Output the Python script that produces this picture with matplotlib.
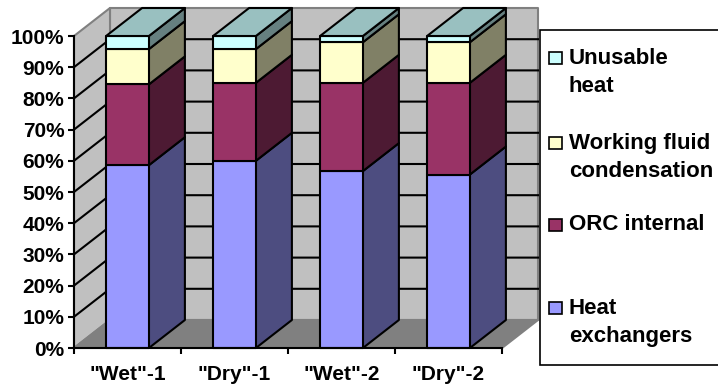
#!/usr/bin/env python3

import matplotlib
matplotlib.use("Agg")
import matplotlib.pyplot as plt
from matplotlib.patches import Polygon, Rectangle

plt.rcParams["font.family"] = ["Liberation Sans", "DejaVu Sans"]
plt.rcParams["font.weight"] = "bold"

CATEGORIES = ['"Wet"-1', '"Dry"-1', '"Wet"-2', '"Dry"-2']
HEAT_EXCHANGERS = [58.6, 60.0, 56.7, 55.6]
ORC_INTERNAL = [25.9, 25.0, 28.3, 29.4]
CONDENSATION = [11.3, 10.8, 13.0, 13.0]
UNUSABLE = [4.2, 4.2, 2.0, 2.0]
YTICKS = [0, 10, 20, 30, 40, 50, 60, 70, 80, 90, 100]

SERIES = [HEAT_EXCHANGERS, ORC_INTERNAL, CONDENSATION, UNUSABLE]
FRONT = ["#9999ff", "#993366", "#ffffcc", "#ccffff"]
SIDE = ["#4d4d80", "#4d1a33", "#808066", "#668080"]
TOP_COLOR = "#99c0c0"

W, H = 718, 387
DX = 36 / 107  # depth offset in category units
DY = 28 / 312 * 100  # depth offset in percent
BAR_W = 0.4
X0, X1 = -0.5, 3.5


def poly(ax, pts, fc, ec="black", lw=1.5, z=2):
    ax.add_patch(Polygon(pts, closed=True, facecolor=fc, edgecolor=ec, linewidth=lw,
                         zorder=z, clip_on=False, joinstyle="round"))


fig = plt.figure(figsize=(W / 100, H / 100), dpi=100, facecolor="white")
ax = fig.add_axes([74 / W, (H - 348) / H, 428 / W, 312 / H])
ax.set_xlim(X0, X1)
ax.set_ylim(0, 100)
ax.patch.set_visible(False)

# walls and floor
poly(ax, [(X0 + DX, DY), (X1 + DX, DY), (X1 + DX, 100 + DY), (X0 + DX, 100 + DY)],
     "#c0c0c0", ec="#808080", z=1)
poly(ax, [(X0, 0), (X0 + DX, DY), (X0 + DX, 100 + DY), (X0, 100)], "#c0c0c0", ec="#808080", z=1)
poly(ax, [(X0, 0), (X1, 0), (X1 + DX, DY), (X0 + DX, DY)], "#808080", ec="#808080", z=1)

for t in YTICKS[1:-1]:
    ax.plot([X0, X0 + DX, X1 + DX], [t, t + DY, t + DY], color="black", lw=1.5,
            zorder=1.5, clip_on=False, solid_joinstyle="miter")

# stacked bars
for i in range(len(CATEGORIES)):
    left, right = i - BAR_W / 2, i + BAR_W / 2
    bottom = 0
    for vals, fc, sc in zip(SERIES, FRONT, SIDE):
        top = bottom + vals[i]
        poly(ax, [(right, bottom), (right + DX, bottom + DY), (right + DX, top + DY), (right, top)], sc)
        poly(ax, [(left, bottom), (right, bottom), (right, top), (left, top)], fc)
        bottom = top
    poly(ax, [(left, bottom), (right, bottom), (right + DX, bottom + DY), (left + DX, bottom + DY)], TOP_COLOR)

# axes
for side in ["top", "right"]:
    ax.spines[side].set_visible(False)
for side in ["left", "bottom"]:
    ax.spines[side].set_linewidth(1.5)
    ax.spines[side].set_zorder(5)
ax.set_yticks(YTICKS)
ax.set_yticklabels([f"{t}%" for t in YTICKS], fontsize=15, fontweight="bold")
ax.tick_params(axis="y", length=4, width=1.5, pad=3)
ax.set_xticks([-0.5, 0.5, 1.5, 2.5, 3.5])
ax.set_xticklabels([])
ax.set_xticks(range(len(CATEGORIES)), minor=True)
ax.set_xticklabels(CATEGORIES, minor=True, fontsize=15, fontweight="bold")
ax.tick_params(axis="x", which="major", length=4, width=1.5)
ax.tick_params(axis="x", which="minor", length=0, pad=12)

# legend, drawn by hand so the row spacing matches
lg = fig.add_axes([0, 0, 1, 1], zorder=5)
lg.set_xlim(0, W)
lg.set_ylim(H, 0)
lg.axis("off")
lg.patch.set_visible(False)
lg.add_patch(Rectangle((540, 30), 180, 335, facecolor="white", edgecolor="black", linewidth=1.2))

LEGEND = [("Unusable\nheat", "#ccffff", 58), ("Working fluid\ncondensation", "#ffffcc", 143),
          ("ORC internal", "#993366", 225), ("Heat\nexchangers", "#9999ff", 308)]
for label, col, y in LEGEND:
    lg.add_patch(Rectangle((548.5, y - 6), 13, 11.5, facecolor=col, edgecolor="black", linewidth=1.2))
    lines = label.split("\n")
    for k, line in enumerate(lines):
        lg.text(569, y + k * 28.5, line, fontsize=16, fontweight="bold", va="center", ha="left")

fig.savefig("out.png", dpi=100)
